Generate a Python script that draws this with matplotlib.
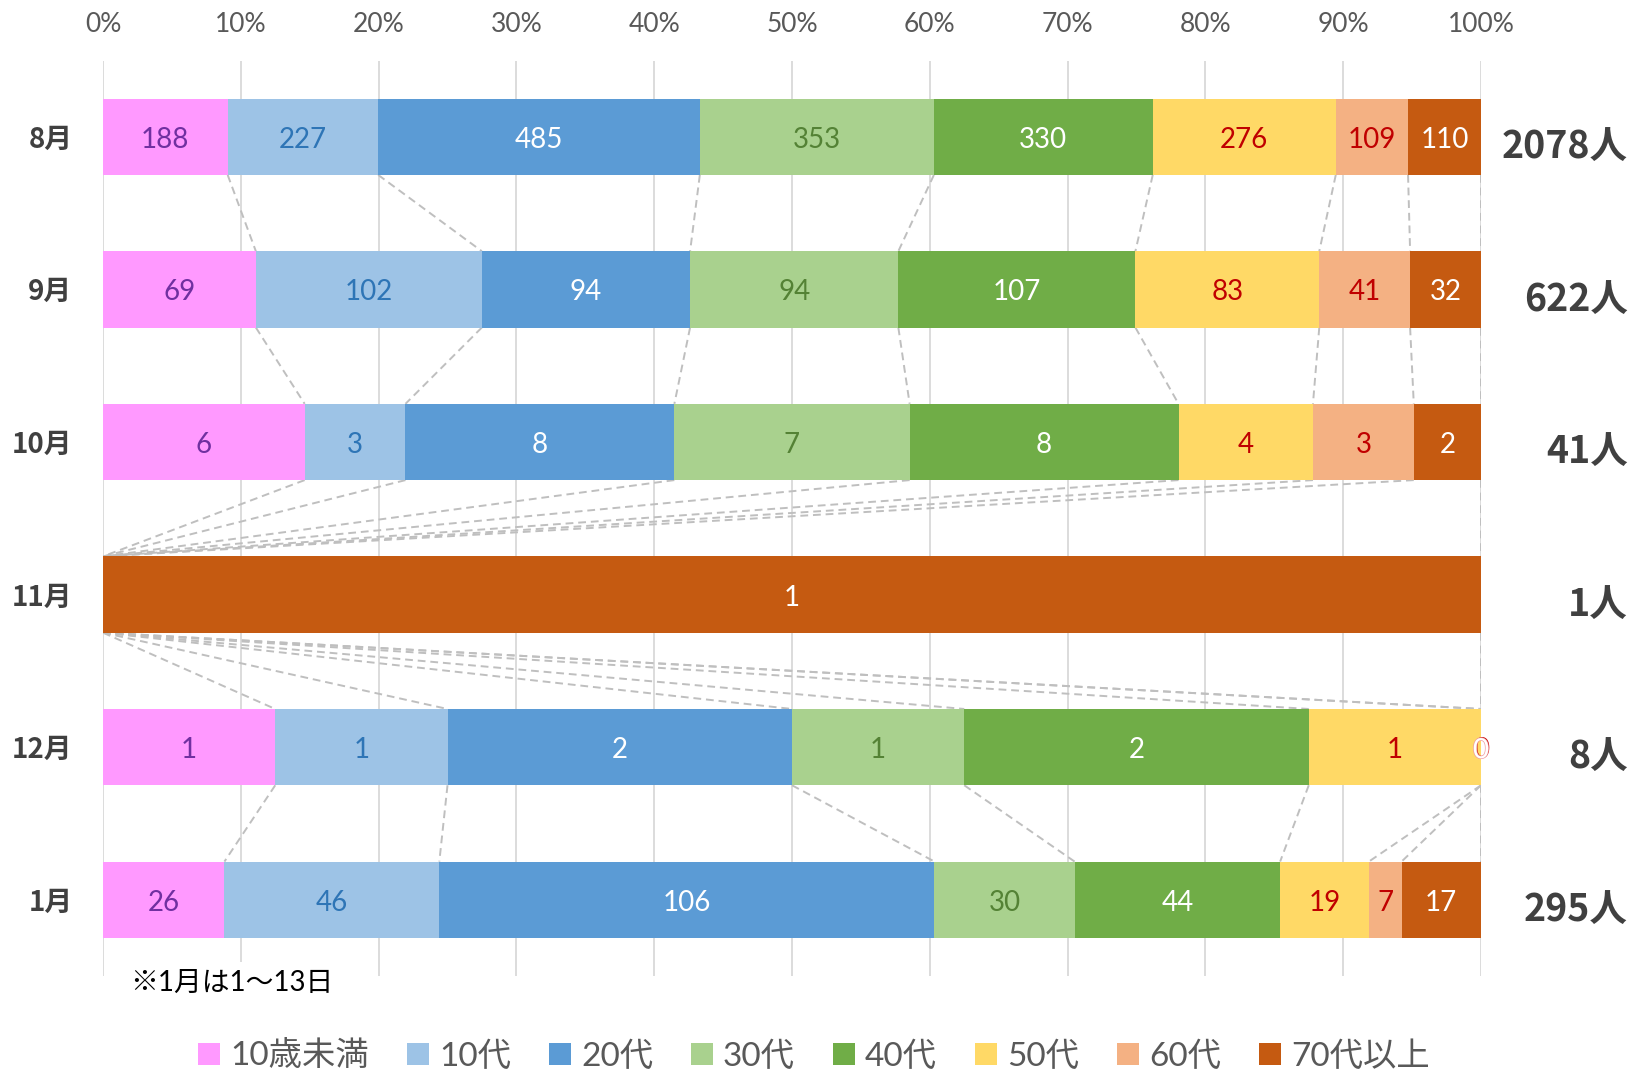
import numpy as np
import matplotlib
matplotlib.use("Agg")
import matplotlib.pyplot as plt
from matplotlib.patches import Patch
from matplotlib.font_manager import FontProperties
from matplotlib import transforms
import matplotlib.patheffects as pe

plt.rcParams['font.family'] = ['Lato', 'Noto Sans CJK JP', 'DejaVu Sans']

# ---------------- data ----------------
months = ['8月', '9月', '10月', '11月', '12月', '1月']
groups = ['10歳未満', '10代', '20代', '30代', '40代', '50代', '60代', '70代以上']

s_under10 = [188, 69, 6, 0, 1, 26]
s_10s = [227, 102, 3, 0, 1, 46]
s_20s = [485, 94, 8, 0, 2, 106]
s_30s = [353, 94, 7, 0, 1, 30]
s_40s = [330, 107, 8, 0, 2, 44]
s_50s = [276, 83, 4, 0, 1, 19]
s_60s = [109, 41, 3, 0, 0, 7]
s_70plus = [110, 32, 2, 1, 0, 17]

footnote = '※1月は1〜13日'
xtick_vals = list(range(0, 101, 10))

series = [s_under10, s_10s, s_20s, s_30s, s_40s, s_50s, s_60s, s_70plus]
fill_colors = ['#FF99FF', '#9DC3E6', '#5B9BD5', '#A9D18E',
               '#70AD47', '#FFD966', '#F4B183', '#C55A11']
label_colors = ['#7030A0', '#2E75B6', '#FFFFFF', '#548235',
                '#FFFFFF', '#C00000', '#C00000', '#FFFFFF']

counts = np.array(series, dtype=float).T  # rows: months, cols: groups
totals = counts.sum(axis=1)
pct = counts / totals[:, None] * 100
cum_right = np.cumsum(pct, axis=1)
cum_left = cum_right - pct

# ---------------- figure ----------------
W, H = 1637, 1071
fig = plt.figure(figsize=(W / 100, H / 100), dpi=100)
ax_l, ax_r, ax_t, ax_b = 103, 1481, 60.5, 976
ax = fig.add_axes([ax_l / W, 1 - ax_b / H, (ax_r - ax_l) / W, (ax_b - ax_t) / H])

ypos = np.arange(len(months))
bar_h = 0.5

for j in range(len(groups)):
    ax.barh(ypos, pct[:, j], left=cum_left[:, j], height=bar_h,
            color=fill_colors[j], edgecolor='none', zorder=3)

# data labels
dy = 0.02
for i in range(len(months)):
    for j in range(len(groups)):
        v = counts[i, j]
        xc = cum_left[i, j] + pct[i, j] / 2
        if v > 0:
            ax.text(xc, ypos[i] + dy, f'{int(v)}', ha='center', va='center',
                    fontsize=20, color=label_colors[j], zorder=5)
        elif cum_left[i, j] >= 99.999:
            if label_colors[j] == '#FFFFFF':
                ax.text(xc, ypos[i] + dy, '0', ha='center', va='center',
                        fontsize=20, color='white', zorder=6,
                        path_effects=[pe.withStroke(linewidth=1.0, foreground='#F19C9C')])
            else:
                ax.text(xc, ypos[i] + dy, '0', ha='center', va='center',
                        fontsize=20, color=label_colors[j], zorder=5)

# series lines
for i in range(len(months) - 1):
    for j in range(len(groups)):
        ax.plot([cum_right[i, j], cum_right[i + 1, j]],
                [ypos[i] + bar_h / 2, ypos[i + 1] - bar_h / 2],
                color='#BFBFBF', lw=1.4, linestyle=(0, (4, 2.5)), zorder=2)

ax.set_xlim(0, 100)
ax.set_ylim(len(months) - 0.5, -0.5)
ax.set_xticks(xtick_vals)
ax.set_xticklabels([f'{v}%' for v in xtick_vals])
ax.tick_params(axis='x', top=True, labeltop=True, bottom=False, labelbottom=False,
               length=0, pad=17, labelsize=19, labelcolor='#595959')
ax.grid(axis='x', color='#D9D9D9', lw=1.3, zorder=0)
ax.set_axisbelow(True)

ax.set_yticks(ypos)
ax.set_yticklabels(months, fontsize=20, fontweight='bold', color='#404040',
                   family=['Noto Sans CJK JP', 'DejaVu Sans'])
ax.tick_params(axis='y', length=0, pad=22)
for sp in ax.spines.values():
    sp.set_visible(False)

# totals on the right
trans = transforms.blended_transform_factory(ax.transAxes, ax.transData)
x_tot = (1628 - ax_l) / (ax_r - ax_l)
for i in range(len(months)):
    ax.text(x_tot, ypos[i] + 0.07, f'{int(totals[i])}人', transform=trans,
            ha='right', va='center', fontsize=27, fontweight='bold',
            color='#404040', family=['Noto Sans CJK JP', 'DejaVu Sans'],
            clip_on=False)

# footnote
fig.text(130 / W, 1 - 983 / H, footnote, ha='left', va='center', fontsize=20,
         color='#000000',
         bbox=dict(facecolor='white', edgecolor='none', pad=6))

# legend
handles = [Patch(facecolor=c, edgecolor='none') for c in fill_colors]
leg = fig.legend(handles, groups, loc='center', bbox_to_anchor=(814 / W, 1 - 1056 / H),
                 ncol=8, frameon=False,
                 prop=FontProperties(family=['Lato', 'Noto Sans CJK JP'], size=24),
                 handlelength=0.66, handleheight=0.66, handletextpad=0.3,
                 columnspacing=1.14, labelcolor='#595959', borderpad=0)

fig.savefig('out.png', dpi=100)
